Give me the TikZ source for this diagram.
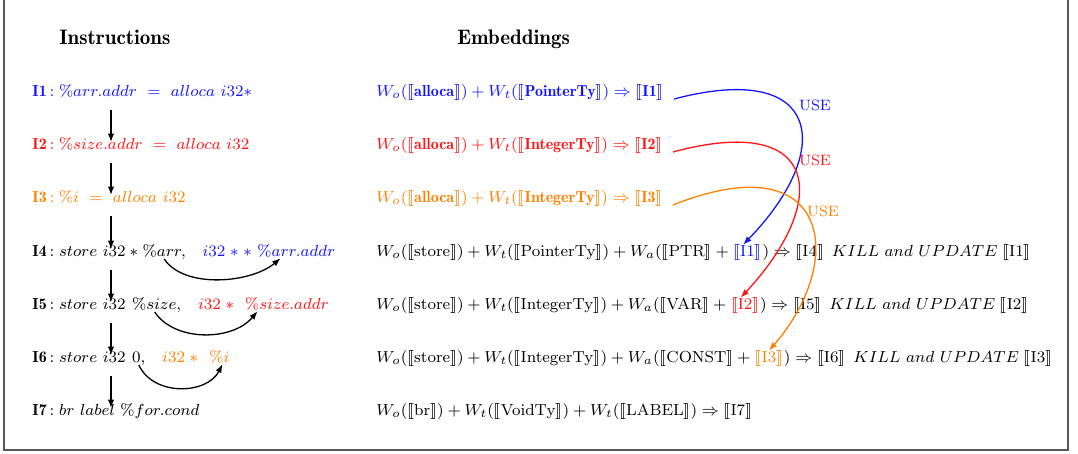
\documentclass[tikz,border=0pt]{standalone}
\usepackage{stmaryrd}
\usetikzlibrary{arrows.meta,calc}
\definecolor{cblue}{RGB}{20,20,255}
\definecolor{cred}{RGB}{255,20,20}
\definecolor{corange}{RGB}{255,128,0}
\newcommand\db[1]{\mbox{\fontseries{b}\selectfont #1}}
\newcommand\lab[1]{\db{#1}\,{:}\;}
\begin{document}
\begin{tikzpicture}[x=0.5pt,y=-0.5pt,
  txt/.style={inner sep=0pt, anchor=base west, font=\fontsize{8}{10}\selectfont},
  head/.style={inner sep=0pt, anchor=base west, font=\fontsize{10.5}{12}\selectfont\fontseries{b}\selectfont},
  flow/.style={-{Latex[length=4.2pt,width=3.2pt]}, line width=0.65pt},
  uselab/.style={inner sep=0pt, font=\fontsize{7.5}{8}\selectfont}]
\useasboundingbox (0,0) rectangle (1078,454);
\draw[black!65, line width=0.8pt] (4,-5) -- (4,450) -- (1068,450) -- (1068,-5);

% headings
\node[head] (h1) at (59,45) {Instructions};
\node[head] (h2) at (457,45) {Embeddings};

% instruction column
\node[txt, text=cblue] (l1) at (32,97) {$\lab{I1}\%arr.addr\ =\ alloca\ i32*$};
\node[txt, text=cred] (l2) at (32,150) {$\lab{I2}\%size.addr\ =\ alloca\ i32$};
\node[txt, text=corange] (l3) at (32,203) {$\lab{I3}\%i\ =\ alloca\ i32$};

\node[txt] (l4) at (32,257) {$\lab{I4}store\ i32 * {}$};
\node[txt] (s4) at (l4.base east) {$\%arr,$};
\node[txt, text=cblue] (p4) at ([xshift=8]s4.base east) {$i32\;{*}\;{*}\;$};
\node[txt, text=cblue] (d4) at (p4.base east) {$\%arr.addr$};

\node[txt] (l5) at (32,310) {$\lab{I5}store\ i32\ $};
\node[txt] (s5) at (l5.base east) {$\%size,$};
\node[txt, text=cred] (p5) at ([xshift=8]s5.base east) {$i32\;{*}\;\ $};
\node[txt, text=cred] (d5) at (p5.base east) {$\%size.addr$};

\node[txt] (l6) at (32,363) {$\lab{I6}store\ i32\ $};
\node[txt] (s6) at (l6.base east) {$0,$};
\node[txt, text=corange] (p6) at ([xshift=8]s6.base east) {$i32\;{*}\;\ $};
\node[txt, text=corange] (d6) at (p6.base east) {$\%i$};

\node[txt] (l7) at (32,416) {$\lab{I7}br\ label\ \%for.cond$};

% control flow arrows
\foreach \a/\b in {l1/l2,l2/l3,l3/l4,l4/l5,l5/l6,l6/l7}
  \draw[flow] ($(\a.base west)+(79,13)$) -- ($(\b.base west)+(79,-8)$);

% def-use arrows in instructions
\draw[flow] ($(s4.base)+(0,2)$) .. controls +(20,30) and +(-30,25) .. ($(d4.south west)!0.3!(d4.south east)$);
\draw[flow] ($(s5.base)+(-2,2)$) .. controls +(20,30) and +(-25,30) .. ($(d5.south west)!0.15!(d5.south east)$);
\draw[flow] ($(s6.base)+(0,2)$) .. controls +(15,32) and +(-15,30) .. ($(d6.south)+(3,0)$);

% embeddings column
\node[txt, text=cblue] (e1) at (376,97) {$W_o(\llbracket\db{alloca}\rrbracket) + W_t(\llbracket\db{PointerTy}\rrbracket) \Rightarrow \llbracket\db{I1}\rrbracket$};
\node[txt, text=cred] (e2) at (376,150) {$W_o(\llbracket\db{alloca}\rrbracket) + W_t(\llbracket\db{IntegerTy}\rrbracket) \Rightarrow \llbracket\db{I2}\rrbracket$};
\node[txt, text=corange] (e3) at (376,203) {$W_o(\llbracket\db{alloca}\rrbracket) + W_t(\llbracket\db{IntegerTy}\rrbracket) \Rightarrow \llbracket\db{I3}\rrbracket$};

\node[txt] (e4) at (376,257) {$W_o(\llbracket\mathrm{store}\rrbracket) + W_t(\llbracket\mathrm{PointerTy}\rrbracket) + W_a(\llbracket\mathrm{PTR}\rrbracket + {}$};
\node[txt, text=cblue] (u4) at (e4.base east) {$\llbracket\mathrm{I1}\rrbracket$};
\node[txt] (f4) at (u4.base east) {$) \Rightarrow \llbracket\mathrm{I4}\rrbracket\enspace KILL\ and\ UPDATE\;\llbracket\mathrm{I1}\rrbracket$};

\node[txt] (e5) at (376,310) {$W_o(\llbracket\mathrm{store}\rrbracket) + W_t(\llbracket\mathrm{IntegerTy}\rrbracket) + W_a(\llbracket\mathrm{VAR}\rrbracket + {}$};
\node[txt, text=cred] (u5) at (e5.base east) {$\llbracket\mathrm{I2}\rrbracket$};
\node[txt] (f5) at (u5.base east) {$) \Rightarrow \llbracket\mathrm{I5}\rrbracket\enspace KILL\ and\ UPDATE\;\llbracket\mathrm{I2}\rrbracket$};

\node[txt] (e6) at (376,363) {$W_o(\llbracket\mathrm{store}\rrbracket) + W_t(\llbracket\mathrm{IntegerTy}\rrbracket) + W_a(\llbracket\mathrm{CONST}\rrbracket + {}$};
\node[txt, text=corange] (u6) at (e6.base east) {$\llbracket\mathrm{I3}\rrbracket$};
\node[txt] (f6) at (u6.base east) {$) \Rightarrow \llbracket\mathrm{I6}\rrbracket\enspace KILL\ and\ UPDATE\;\llbracket\mathrm{I3}\rrbracket$};

\node[txt] (e7) at (376,416) {$W_o(\llbracket\mathrm{br}\rrbracket) + W_t(\llbracket\mathrm{VoidTy}\rrbracket) + W_t(\llbracket\mathrm{LABEL}\rrbracket) \Rightarrow \llbracket\mathrm{I7}\rrbracket$};

% USE arrows
\draw[flow, cblue] ($(e1.base east)+(10,2)$) .. controls +(148,-39) and +(92,-95) .. ($(u4.north west)!0.35!(u4.north east)$);
\draw[flow, cred] ($(e2.base east)+(10,2)$) .. controls +(148,-40) and +(90,-97) .. ($(u5.north west)!0.35!(u5.north east)$);
\draw[flow, corange] ($(e3.base east)+(10,2)$) .. controls +(158,-63) and +(78,-90) .. ($(u6.north west)!0.5!(u6.north east)$);

\node[uselab, text=cblue] (k1) at (815,105) {USE};
\node[uselab, text=cred] (k2) at (815,160) {USE};
\node[uselab, text=corange] (k3) at (823,211) {USE};
\end{tikzpicture}
\end{document}
